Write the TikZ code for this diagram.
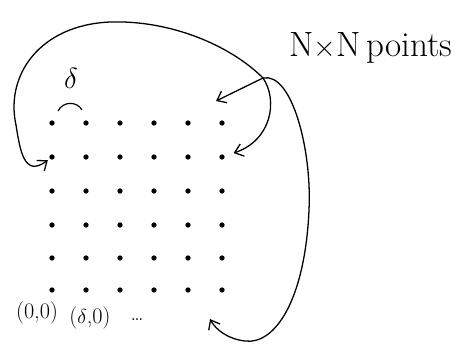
\documentclass[tikz,border=0pt]{standalone}
\usepackage{fontspec}
\setmainfont{Latin Modern Roman}
\usetikzlibrary{arrows.meta}
\tikzset{
  gridpt/.style={circle,fill=black,inner sep=0pt,minimum size=4.5pt},
  wrap/.style={line width=1.1pt,line cap=round,-{Straight Barb[length=7pt,width=11pt,line width=1.1pt]}},
  lbl/.style={font=\fontsize{19}{21}\selectfont,inner sep=0pt}
}
\begin{document}
\begin{tikzpicture}[x=0.03cm,y=-0.03cm]
\useasboundingbox (0,0) rectangle (460,350);
% N x N grid of sample points
\foreach \r/\y in {0/123,1/157,2/191,3/225,4/258,5/290}
  \foreach \c/\x in {0/52,1/86,2/120,3/154,4/188,5/222}
    \node[gridpt] (p-\r-\c) at (\x,\y) {};
\node[font=\fontsize{30}{32}\selectfont] (title) at (371,48) {N$\times$N\,points};
% spacing delta
\draw[line width=1pt] (58,111) .. controls (63,101) and (77,101) .. (82,110);
\node[font=\fontsize{24}{26}\selectfont] (delta) at (71,78) {$\delta$};
% coordinates
\node[lbl] (c00) at (37,313) {(0,0)};
\node[lbl] (cd0) at (90,318) {($\delta$,0)};
\node[lbl] (dots) at (137,320) {\dots};
% wrap-around arrows
\coordinate (hub) at (263,78);
\coordinate (tipTop) at (216,101);
\coordinate (tipBot) at (210,319);
\draw[wrap,shorten >=2pt] (hub) .. controls (230,45) and (170,20) .. (110,22)
  .. controls (40,25) and (5,75) .. (16,125)
  .. controls (20,150) and (24,178) .. (p-1-0);
\draw[wrap] (hub) -- (tipTop);
\draw[wrap,shorten >=8pt] (hub) .. controls (278,100) and (272,140) .. (p-1-5);
\draw[wrap] (hub) .. controls (292,72) and (312,150) .. (309,210)
  .. controls (305,300) and (275,345) .. (245,341)
  .. controls (228,339) and (216,330) .. (tipBot);
\end{tikzpicture}
\end{document}
